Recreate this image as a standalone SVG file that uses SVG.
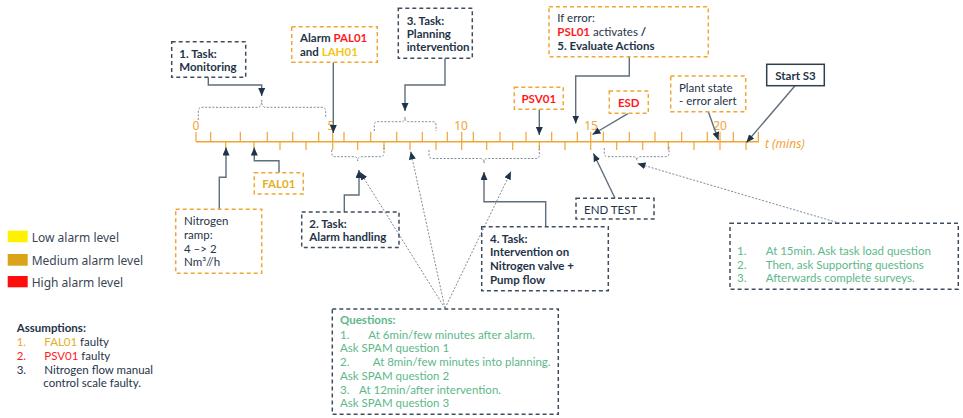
<svg xmlns="http://www.w3.org/2000/svg" width="963" height="418" viewBox="0 0 963 418">
<defs>
<marker id="ah" markerUnits="userSpaceOnUse" markerWidth="9" markerHeight="8" refX="8" refY="3.5" orient="auto">
<path d="M0,0 L8,3.5 L0,7 z" fill="#1F3448"/>
</marker>
<style>
.nb{fill:none;stroke:#3F4E5E;stroke-width:1.5;stroke-dasharray:4 3}
.ob{fill:#fff;stroke:#F0A535;stroke-width:1.5;stroke-dasharray:4 3}
.t{font-family:Lato,"Liberation Sans",sans-serif;font-size:11.5px;fill:#1F3448}
.b{font-weight:bold}
.red{fill:#FF1A1A}
.yel{fill:#F5C518}
.gold{fill:#E2B028}
.org{fill:#F0A535}
.g{font-family:Lato,"Liberation Sans",sans-serif;font-size:11.5px;fill:#5DB88A}
.leg{font-family:"Noto Sans",sans-serif;font-size:12px;fill:#3A4656}
.ax{font-family:"Noto Sans",sans-serif;font-size:12px;fill:#F0A535}
.c{fill:none;stroke:#5F6E7D;stroke-width:1.4}
.d{fill:none;stroke:#7F8A95;stroke-width:1;stroke-dasharray:2 1.6}
</style>
</defs>
<rect width="963" height="418" fill="#fff"/>

<g id="timeline">
<path d="M196,141.7 H759" stroke="#F0A535" stroke-width="1.5" fill="none"/>
<path stroke="#F0A535" stroke-width="1.2" fill="none" d="M196,131.7V141.7 M210.7,131.7V141.7 M225.7,141.7V150 M240.3,131.7V141.7 M254,141.7V150 M267.3,131.7V141.7 M280,141.7V150 M292.7,131.7V141.7 M306,141.7V150 M318.7,131.7V141.7 M332.7,131.7V150 M344,131.7V141.7 M357.7,141.7V150 M370.7,131.7V141.7 M384,141.7V150 M396.7,131.7V141.7 M410,141.7V150 M422.3,131.7V141.7 M436,141.7V150 M447.3,131.7V141.7 M461.7,131.7V150 M473.3,131.7V141.7 M486.7,141.7V150 M500,131.7V141.7 M512.7,141.7V150 M526,131.7V141.7 M539.3,141.7V150 M551.7,131.7V141.7 M565,141.7V150 M577.3,131.7V141.7 M590.7,131.7V150 M603.3,131.7V141.7 M616.7,141.7V150 M629.3,131.7V141.7 M642.7,141.7V150 M655,131.7V141.7 M668.3,141.7V150 M681.7,131.7V141.7 M694,141.7V150 M707.3,131.7V141.7 M720,131.7V150 M733.3,131.7V141.7 M746,141.7V150 M758.3,131.7V141.7"/>
<text class="ax" x="196" y="130" text-anchor="middle">0</text>
<text class="ax" x="331" y="130" text-anchor="middle">5</text>
<text class="ax" x="461" y="130" text-anchor="middle">10</text>
<text class="ax" x="591" y="130" text-anchor="middle">15</text>
<text class="ax" x="720" y="130" text-anchor="middle">20</text>
<text class="ax" x="765" y="148" font-style="italic">t (mins)</text>
</g>

<g id="connectors">
<path class="d" d="M198.3,120 V111 Q198.3,107.3 202,107.3 H258 Q261.7,107.3 261.7,100 Q261.7,107.3 265.4,107.3 H322 Q325.7,107.3 325.7,111 V118.3"/>
<path class="d" d="M374.3,131 V125 Q374.3,121.7 378,121.7 H401.5 Q405,121.7 405,117 Q405,121.7 408.5,121.7 H432.5 Q436,121.7 436,125 V131"/>
<path class="d" d="M331.7,150 V153 Q331.7,156.7 335.5,156.7 H354 Q357.7,156.7 357.7,161 Q357.7,156.7 361.5,156.7 H380.3 Q384,156.7 384,153 V145"/>
<path class="d" d="M429,150 V155 Q429,158.5 432.5,158.5 H480.5 Q484,158.5 484,163 Q484,158.5 487.5,158.5 H535.8 Q539.3,158.5 539.3,155 V146"/>
<path class="d" d="M604.3,148 V153 Q604.3,156.7 608,156.7 H633 Q636.7,156.7 636.7,160.5 Q636.7,156.7 640.4,156.7 H665.3 Q669,156.7 669,153 V146"/>

<path class="c" d="M208.3,77.3 V85 H261.7 V96" marker-end="url(#ah)"/>
<path class="c" d="M333.3,62.3 V133" marker-end="url(#ah)"/>
<path class="c" d="M445,58.3 V85 H405 V111" marker-end="url(#ah)"/>
<path class="c" d="M629.3,56.7 V76 H575.7 V123.5" marker-end="url(#ah)"/>
<path class="c" d="M539.3,109.3 V135" marker-end="url(#ah)"/>
<path class="c" d="M628.3,113.3 L592.5,134.5" marker-end="url(#ah)"/>
<path class="c" d="M708.3,111.7 L718.5,140" marker-end="url(#ah)"/>
<path class="c" d="M795,85.7 L746.5,142.5" marker-end="url(#ah)"/>
<path class="c" d="M219.3,209.3 V177.3 H226 V147.5" marker-end="url(#ah)"/>
<path class="c" d="M279,172.7 V160.7 H254.3 V147.5" marker-end="url(#ah)"/>
<path class="c" d="M344.3,211.7 V195 H359 V170" marker-end="url(#ah)"/>
<path class="c" d="M545.7,226.7 V201.7 H484 V172" marker-end="url(#ah)"/>
<path class="c" d="M615,198.3 L593.5,153.5" marker-end="url(#ah)"/>
<path class="d" d="M445,308.3 L360,172" marker-end="url(#ah)"/>
<path class="d" d="M445,308.3 L410.7,151.5" marker-end="url(#ah)"/>
<path class="d" d="M445,308.3 L511,171.5" marker-end="url(#ah)"/>
<path class="d" d="M840,223.3 L637.5,163.5" marker-end="url(#ah)"/>
</g>

<g id="task1">
<rect class="nb" x="171.7" y="41.7" width="74" height="35.6"/>
<text class="t b" x="179.3" y="57.5">1. Task:</text>
<text class="t b" x="179.3" y="70.5">Monitoring</text>
</g>

<g id="alarm">
<rect class="ob" x="291.7" y="26.7" width="85.6" height="35.6"/>
<text class="t b" x="300" y="42">Alarm <tspan class="red">PAL01</tspan></text>
<text class="t b" x="300" y="56">and  <tspan class="yel">LAH01</tspan></text>
</g>

<g id="task3">
<rect class="nb" x="398.3" y="8.3" width="74" height="50"/>
<text class="t b" x="406.7" y="24.5">3. Task:</text>
<text class="t b" x="406.7" y="38">Planning</text>
<text class="t b" x="406.7" y="51">intervention</text>
</g>

<g id="iferror">
<rect class="ob" x="549" y="6.7" width="159.3" height="50"/>
<text class="t" x="557.3" y="21.5">If error:</text>
<text class="t" x="557.3" y="36"><tspan class="b red">PSL01</tspan> activates <tspan class="b">/</tspan></text>
<text class="t b" x="557.3" y="49.5">5. Evaluate Actions</text>
</g>

<g id="psv01">
<rect class="ob" x="514.3" y="87.3" width="49" height="22"/>
<text class="t b red" x="538.8" y="103" text-anchor="middle">PSV01</text>
</g>

<g id="esd">
<rect class="ob" x="609.3" y="91" width="39" height="22.3"/>
<text class="t b red" x="628.8" y="106.5" text-anchor="middle">ESD</text>
</g>

<g id="plant">
<rect class="ob" x="670.7" y="76" width="75" height="35.7"/>
<text class="t" x="679" y="91.5">Plant state</text>
<text class="t" x="679" y="105">- error alert</text>
</g>

<g id="start">
<rect x="766.7" y="64.3" width="57.6" height="21.4" fill="#fff" stroke="#2E3F50" stroke-width="1.5"/>
<text class="t b" x="795.5" y="80" text-anchor="middle">Start S3</text>
</g>

<g id="fal01">
<rect class="ob" x="254.3" y="172.7" width="49" height="21.3"/>
<text class="t b gold" x="278.8" y="188" text-anchor="middle">FAL01</text>
</g>

<g id="nitrogen">
<rect class="ob" x="175.7" y="209.3" width="86" height="64"/>
<text class="t" x="184" y="225">Nitrogen</text>
<text class="t" x="184" y="238.5">ramp:</text>
<text class="t" x="184" y="252.5">4 –&gt; 2</text>
<text class="t" x="184" y="266">Nm³//h</text>
</g>

<g id="task2">
<rect class="nb" x="301.7" y="212" width="97.3" height="35.5"/>
<text class="t b" x="309.3" y="227.5">2. Task:</text>
<text class="t b" x="309.3" y="241">Alarm handling</text>
</g>

<g id="task4">
<rect class="nb" x="481.7" y="226.7" width="126.6" height="64"/>
<text class="t b" x="490" y="242.5">4. Task:</text>
<text class="t b" x="490" y="256">Intervention on</text>
<text class="t b" x="490" y="270">Nitrogen valve +</text>
<text class="t b" x="490" y="283.5">Pump flow</text>
</g>

<g id="endtest">
<rect class="nb" x="576" y="198.3" width="78" height="20.7"/>
<text class="t" x="584" y="213.5">END TEST</text>
</g>

<g id="questions">
<rect class="nb" x="332.3" y="309" width="226" height="105.3"/>
<text class="g b" x="340" y="324">Questions:</text>
<text class="g" x="340" y="338.5">1.</text>
<text class="g" x="368.3" y="338.5">At 6min/few minutes after alarm.</text>
<text class="g" x="340" y="352">Ask SPAM question 1</text>
<text class="g" x="340" y="366">2.</text>
<text class="g" x="372.7" y="366">At 8min/few minutes into planning.</text>
<text class="g" x="340" y="380">Ask SPAM question 2</text>
<text class="g" x="340" y="393.5">3.</text>
<text class="g" x="359" y="393.5">At 12min/after intervention.</text>
<text class="g" x="340" y="407">Ask SPAM question 3</text>
</g>

<g id="final">
<rect class="nb" x="730" y="223.3" width="228.3" height="66"/>
<text class="g" x="737" y="255">1.</text>
<text class="g" x="765.7" y="255">At 15min. Ask task load question</text>
<text class="g" x="737" y="268.5">2.</text>
<text class="g" x="765.7" y="268.5">Then, ask Supporting questions</text>
<text class="g" x="737" y="282">3.</text>
<text class="g" x="765.7" y="282">Afterwards complete surveys.</text>
</g>

<g id="legend">
<rect x="7.7" y="230.7" width="20" height="11.6" fill="#FFF200"/>
<rect x="7.7" y="254" width="20" height="11.7" fill="#DBA317"/>
<rect x="7.7" y="276" width="20" height="11.3" fill="#FF0D0D"/>
<text class="leg" x="31.7" y="241.5">Low alarm level</text>
<text class="leg" x="31.7" y="265">Medium alarm level</text>
<text class="leg" x="31.7" y="287">High alarm level</text>
</g>

<g id="assumptions">
<text class="t b" x="16.7" y="332">Assumptions:</text>
<text class="t" x="16.7" y="346"><tspan class="org">1.</tspan></text>
<text class="t" x="44.3" y="346"><tspan class="gold">FAL01</tspan> faulty</text>
<text class="t" x="16.7" y="359.5"><tspan class="red">2.</tspan></text>
<text class="t" x="44.3" y="359.5"><tspan class="red">PSV01</tspan> faulty</text>
<text class="t" x="16.7" y="373.5">3.</text>
<text class="t" x="44.3" y="373.5">Nitrogen flow manual</text>
<text class="t" x="43.3" y="387">control scale faulty.</text>
</g>
</svg>
